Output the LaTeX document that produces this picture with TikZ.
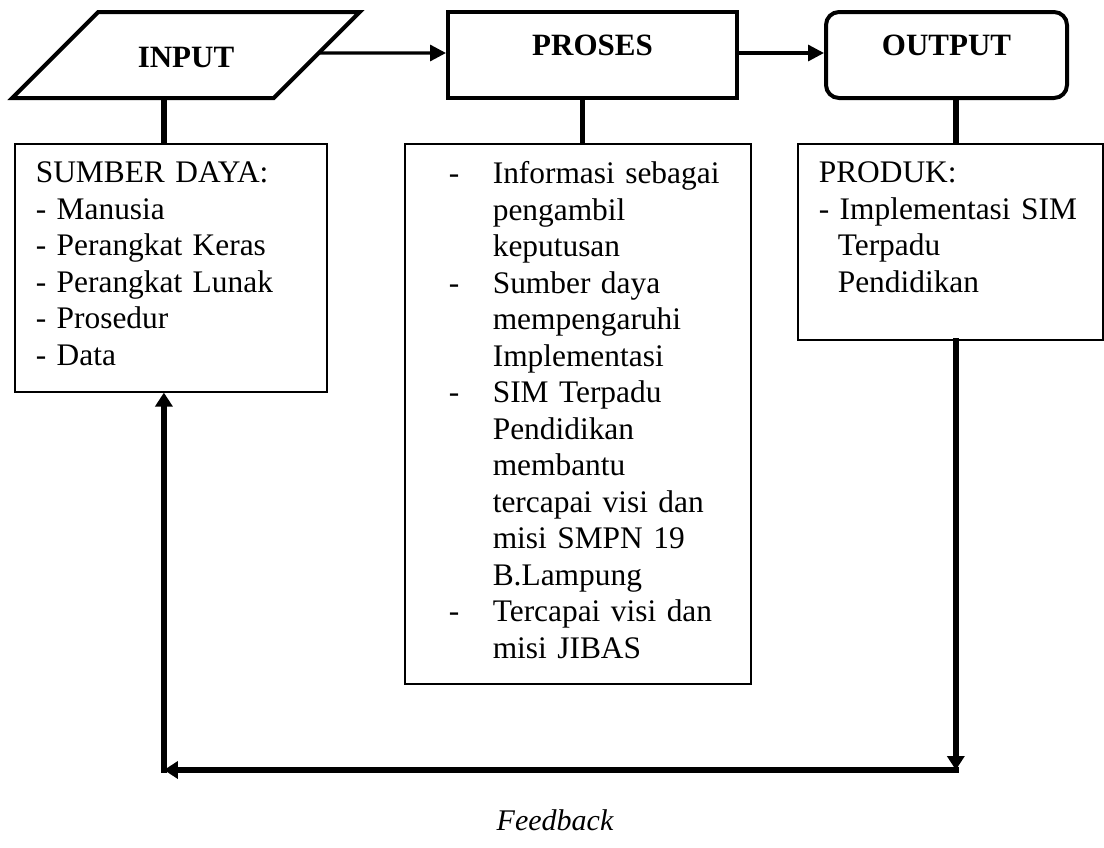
\documentclass[tikz,border=0pt]{standalone}
\usepackage{fontspec}
\setmainfont{Liberation Serif}
\usetikzlibrary{shapes.geometric}
\usetikzlibrary{arrows.meta}
\usetikzlibrary{calc}

\newcommand{\pitem}[1]{\hspace*{44pt}\makebox[44pt][l]{-}#1}
\newcommand{\pcont}[1]{\hspace*{88pt}#1}

\begin{document}
\begin{tikzpicture}[x=1pt,y=-1pt,
  head/.style={draw, line width=4pt, font=\fontsize{31}{36}\selectfont\bfseries},
  box/.style={draw, line width=1.6pt, anchor=north west, inner ysep=0pt, align=left,
    font=\fontsize{31.4}{36.5}\selectfont},
  link/.style={line width=5.5pt},
  flow/.style={line width=3.3pt, -{Triangle[length=16pt,width=16pt]}},
  back/.style={line width=5.5pt, line cap=rect, -{Triangle[length=14pt,width=17pt]}}]
  \useasboundingbox (0,0) rectangle (1104,847);

  % top row
  \node[head, trapezium, trapezium left angle=45, trapezium right angle=135,
        text height=25pt, text depth=0pt, inner xsep=39.5pt, inner ysep=30.5pt] (input) at (186,55) {INPUT};
  \node[head, minimum width=289pt, minimum height=86pt, text height=22pt, text depth=22pt] (proses) at (592.5,55) {PROSES};
  \node[head, rounded corners=13pt, minimum width=241pt, minimum height=86pt, text height=22pt, text depth=22pt] (output) at (946.5,55) {OUTPUT};

  % keterangan
  \node[box, inner xsep=21pt, text width=270pt, text height=39pt, text depth=209pt] (sumber) at (14,143)
    {SUMBER DAYA:\\- Manusia\\- Perangkat Keras\\- Perangkat Lunak\\- Prosedur\\- Data};
  \node[box, inner xsep=0pt, text width=346pt, text height=40pt, text depth=500pt] (ket) at (404,143)
    {\pitem{Informasi sebagai}\\\pcont{pengambil}\\\pcont{keputusan}\\
     \pitem{Sumber daya}\\\pcont{mempengaruhi}\\\pcont{Implementasi}\\
     \pitem{SIM Terpadu}\\\pcont{Pendidikan}\\\pcont{membantu}\\
     \pcont{tercapai visi dan}\\\pcont{misi SMPN 19}\\\pcont{B.Lampung}\\
     \pitem{Tercapai visi dan}\\\pcont{misi JIBAS}};
  \node[box, inner xsep=0pt, text width=305pt, text height=39pt, text depth=157pt] (produk) at (797,143)
    {\hspace*{21pt}PRODUK:\\\hspace*{21pt}- Implementasi SIM\\\hspace*{40pt}Terpadu\\\hspace*{40pt}Pendidikan};

  \node[font=\fontsize{30}{36}\selectfont\itshape] (fbtext) at (555,820) {Feedback};

  % penghubung
  \coordinate (c1) at ($(sumber.north west)!.478!(sumber.north east)$);
  \coordinate (c2) at ($(ket.north west)!.514!(ket.north east)$);
  \coordinate (c3) at ($(produk.north west)!.518!(produk.north east)$);
  \draw[link] (input.south -| c1) -- (c1);
  \draw[link] (proses.south -| c2) -- (c2);
  \draw[link] (output.south -| c3) -- (c3);

  \draw[flow] ([yshift=2pt]input.east) -- ([yshift=2pt]proses.west);
  \draw[flow] ([yshift=2pt]proses.east) -- ([yshift=2pt]output.west);

  % feedback
  \coordinate (br) at (c3 |- 0,770);
  \coordinate (bl) at (c1 |- 0,770);
  \draw[back] (produk.south -| br) -- (br);
  \draw[back] (br) -- (bl);
  \draw[back] (bl) -- (sumber.south -| bl);
\end{tikzpicture}
\end{document}
